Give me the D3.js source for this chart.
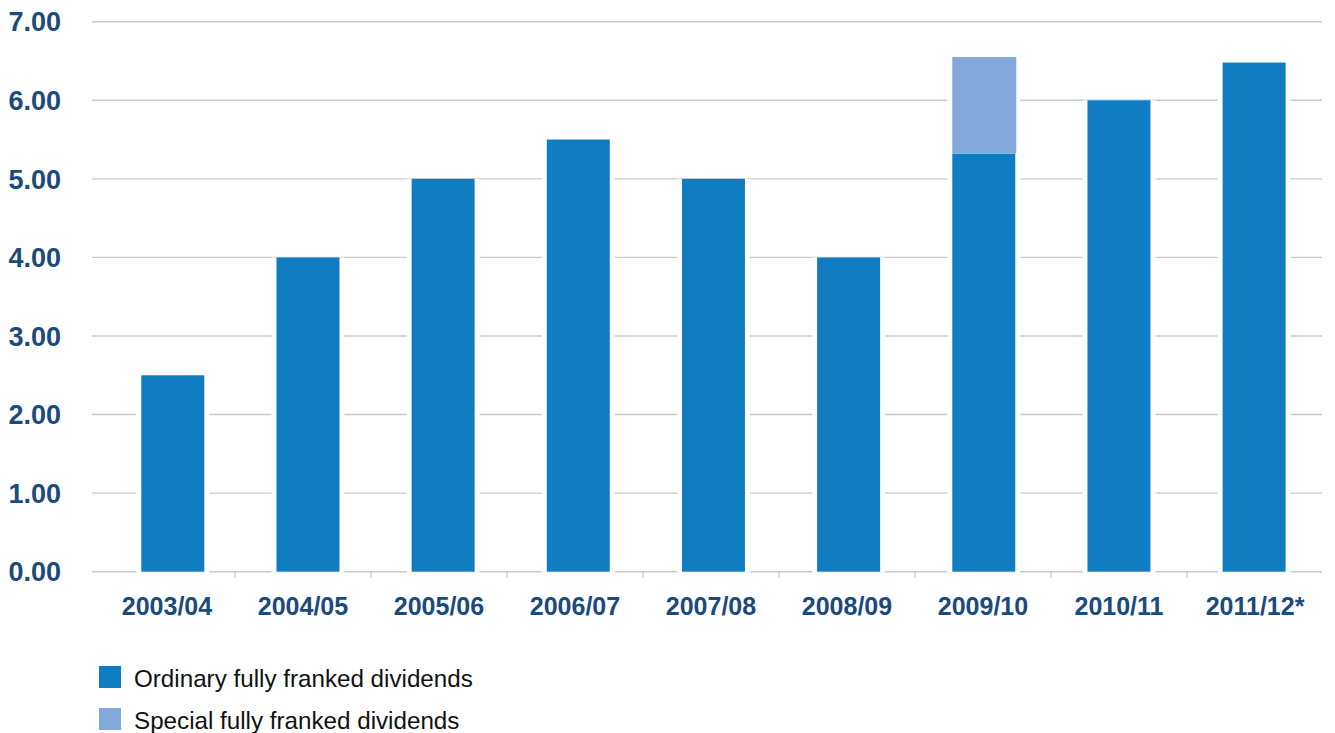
<!DOCTYPE html>
<html>
<head>
<meta charset="utf-8">
<script src="https://cdn.jsdelivr.net/npm/d3@7"></script>
<style>
    body { margin: 0; background: #fff; }
    svg { display: block; font-family: "Liberation Sans", Arial, sans-serif; }
</style>
</head>
<body>
<svg width="1335" height="733"></svg>
<script>
const years    = ["2003/04", "2004/05", "2005/06", "2006/07", "2007/08", "2008/09", "2009/10", "2010/11", "2011/12*"];
const ordinary = [2.50, 4.00, 5.00, 5.50, 5.00, 4.00, 5.32, 6.00, 6.48];
const special  = [0, 0, 0, 0, 0, 0, 1.23, 0, 0];
const yTicks   = [0, 1, 2, 3, 4, 5, 6, 7];
const legend   = [
    { "label": "Ordinary fully franked dividends", "color": "#107dc2" },
    { "label": "Special fully franked dividends",  "color": "#82a9da" },
];

const svg = d3.select("svg");
const navy = "#1b4a7c";
const gridColor = "#c9c9c9";

// category axis (labels + tick marks)
const x = d3.scaleBand()
    .domain(years)
    .range([99, 1323])
    .paddingInner(0.535)
    .paddingOuter(0.2675);

// bars sit on a slightly tighter band than the axis
const xBar = d3.scaleBand()
    .domain(years)
    .range([105.2, 1321.7])
    .paddingInner(0.534)
    .paddingOuter(0.267);

const y = d3.scaleLinear()
    .domain([0, 7])
    .range([571.7, 21.7]);

const rows = years.map((year, i) => ({
    "year":     year,
    "ordinary": ordinary[i],
    "special":  special[i],
}));

// gridlines
svg.append("g")
    .selectAll("line")
    .data(yTicks)
    .enter().append("line")
        .attr("x1", 92)
        .attr("x2", 1322)
        .attr("y1", d => y(d))
        .attr("y2", d => y(d))
        .attr("stroke", gridColor)
        .attr("stroke-width", 1.4);

// tick marks between categories on the baseline
svg.append("g")
    .selectAll("line")
    .data(years.slice(1))
    .enter().append("line")
        .attr("x1", d => x(d) - x.step() * x.paddingInner() / 2)
        .attr("x2", d => x(d) - x.step() * x.paddingInner() / 2)
        .attr("y1", y(0))
        .attr("y2", y(0) + 6)
        .attr("stroke", gridColor)
        .attr("stroke-width", 1.4);

// white halo that breaks the gridlines around each bar
svg.append("g")
    .selectAll("rect")
    .data(rows)
    .enter().append("rect")
        .attr("x", d => xBar(d.year) - 5)
        .attr("width", xBar.bandwidth() + 10)
        .attr("y", d => y(d.ordinary + d.special))
        .attr("height", d => y(0) - y(d.ordinary + d.special) + 1)
        .attr("fill", "#fff");

const bars = svg.append("g");

bars.selectAll("rect.ord")
    .data(rows)
    .enter().append("rect")
        .attr("class", "ord")
        .attr("x", d => xBar(d.year))
        .attr("width", xBar.bandwidth())
        .attr("y", d => y(d.ordinary))
        .attr("height", d => y(0) - y(d.ordinary))
        .attr("fill", legend[0].color);

bars.selectAll("rect.spec")
    .data(rows.filter(d => d.special > 0))
    .enter().append("rect")
        .attr("class", "spec")
        .attr("x", d => xBar(d.year))
        .attr("width", xBar.bandwidth() + 1)
        .attr("y", d => y(d.ordinary + d.special))
        .attr("height", d => y(d.ordinary) - y(d.ordinary + d.special))
        .attr("fill", legend[1].color);

// y labels
svg.append("g")
    .selectAll("text")
    .data(yTicks)
    .enter().append("text")
        .attr("x", 61)
        .attr("y", d => y(d))
        .attr("dy", "0.36em")
        .attr("text-anchor", "end")
        .attr("font-size", 27)
        .attr("font-weight", "bold")
        .attr("fill", navy)
        .text(d => d3.format(".2f")(d));

// x labels
svg.append("g")
    .selectAll("text")
    .data(years)
    .enter().append("text")
        .attr("x", d => x(d) + x.bandwidth() / 2)
        .attr("y", 615)
        .attr("text-anchor", "middle")
        .attr("font-size", 25)
        .attr("font-weight", "bold")
        .attr("fill", navy)
        .text(d => d);

// legend
const item = svg.append("g")
    .selectAll("g")
    .data(legend)
    .enter().append("g")
        .attr("transform", (d, i) => "translate(99," + (666 + i * 42) + ")");

item.append("rect")
    .attr("width", 22)
    .attr("height", 22)
    .attr("fill", d => d.color);

item.append("text")
    .attr("x", 35)
    .attr("y", 21)
    .attr("font-size", 24.2)
    .attr("fill", "#111")
    .text(d => d.label);
</script>
</body>
</html>
